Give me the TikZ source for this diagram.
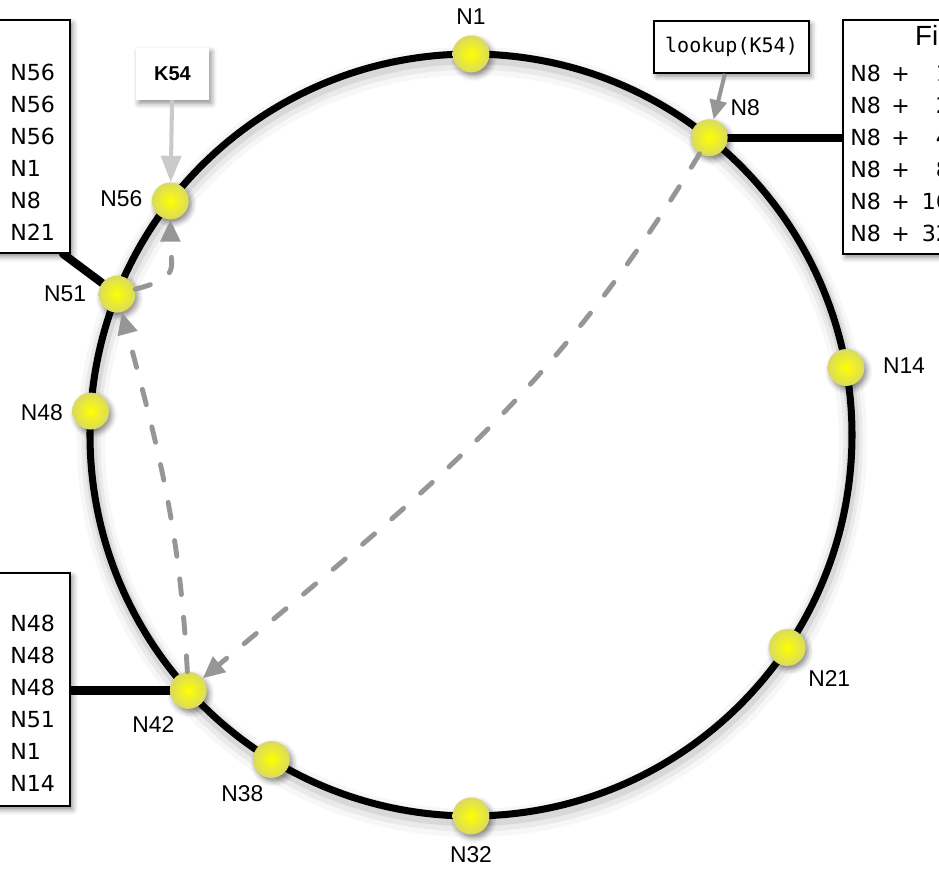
\documentclass[tikz,border=0pt]{standalone}
\usepackage{fontspec}
\setmainfont{Liberation Sans}
\newfontfamily\tablefont{DejaVu Sans}
\newfontfamily\codefont{DejaVu Sans Mono}
\usetikzlibrary{arrows.meta, positioning, shadows.blur, backgrounds}
\definecolor{peercore}{RGB}{255,255,0}
\definecolor{peerrim}{RGB}{218,218,96}
\definecolor{hopgray}{RGB}{150,150,150}
\definecolor{keygray}{RGB}{202,202,202}
\newcommand{\fingerrow}[1]{\makebox[20pt][l]{N8}\makebox[17.2pt]{+}\makebox[19.5pt][r]{#1}}
\tikzset{
    softshadow/.style={blur shadow={shadow xshift=1.5pt, shadow yshift=-2pt, shadow blur radius=3pt, shadow opacity=45}},
    peer/.style={circle, minimum size=21pt, inner sep=0pt, inner color=peercore, outer color=peerrim, softshadow},
    peerlabel/.style={inner sep=0pt, font=\fontsize{13}{15}\selectfont},
    fingerbox/.style={rectangle, draw=black, line width=1pt, fill=white, softshadow},
    fingerrows/.style={inner sep=0pt, align=left, font=\tablefont\fontsize{12.6}{18.2}\selectfont},
    fingertitle/.style={inner sep=0pt, font=\fontsize{15.8}{18}\selectfont},
    keybox/.style={rectangle, fill=white, minimum width=41.4pt, minimum height=29.5pt, font=\bfseries\fontsize{11.4}{13}\selectfont, softshadow},
    callbox/.style={rectangle, draw=black, line width=1pt, fill=white, minimum width=87.9pt, minimum height=29.5pt, font=\codefont\fontsize{11.4}{13}\selectfont, softshadow},
    ring/.style={line width=4pt},
    link/.style={line width=4.7pt, line cap=round},
    hop/.style={hopgray, line width=2.8pt, line cap=round, dash pattern=on 9pt off 13pt, -{Triangle[length=12.5pt, width=11pt]}},
    keyarrow/.style={keygray, line width=2.3pt, -{Triangle[length=15pt, width=11.3pt]}},
    callarrow/.style={hopgray, line width=2.3pt, -{Triangle[length=11pt, width=9.6pt]}}
}

\begin{document}
\begin{tikzpicture}[x=0.02cm, y=0.02cm]
\path[use as bounding box] (-471,-434) rectangle (468,435);
\clip (-471,-434) rectangle (468,435);

% Ring and its shadow
\draw[line width=16pt, black, opacity=0.03] (1,-7) circle (381);
\draw[line width=11pt, black, opacity=0.05] (1,-6) circle (381);
\draw[line width=7pt, black, opacity=0.08] (1,-4) circle (381);
\draw[ring] (0,0) circle (381);

% Peers on the ring
\node[peer] (n1) at (90:381) {};
\node[peer] (n8) at (51.3:381) {};
\node[peer] (n14) at (10.2:381) {};
\node[peer] (n21) at (-33.9:381) {};
\node[peer] (n32) at (-90:381) {};
\node[peer] (n38) at (238.4:381) {};
\node[peer] (n42) at (222.1:381) {};
\node[peer] (n48) at (176.4:381) {};
\node[peer] (n51) at (158.3:381) {};
\node[peer] (n56) at (142.1:381) {};

% Peer names
\node[peerlabel] (n1label) at ([shift={(0,37)}]n1) {N1};
\node[peerlabel] (n8label) at ([shift={(36,30)}]n8) {N8};
\node[peerlabel] (n14label) at ([shift={(58,2)}]n14) {N14};
\node[peerlabel] (n21label) at ([shift={(42,-31)}]n21) {N21};
\node[peerlabel] (n32label) at ([shift={(0,-39)}]n32) {N32};
\node[peerlabel] (n38label) at ([shift={(-29,-34)}]n38) {N38};
\node[peerlabel] (n42label) at ([shift={(-35,-34)}]n42) {N42};
\node[peerlabel] (n48label) at ([shift={(-49,-2)}]n48) {N48};
\node[peerlabel] (n51label) at ([shift={(-52,0)}]n51) {N51};
\node[peerlabel] (n56label) at ([shift={(-49,2)}]n56) {N56};

% Finger tables
\node[fingerbox, minimum width=68pt, minimum height=132.7pt, anchor=north east] (ft51) at (-400,416) {};
\node[fingerrows, anchor=north west] (ft51rows) at ([shift={(-61,-44.5)}]ft51.north east) {N56\\N56\\N56\\N1\\N8\\N21};

\node[fingerbox, minimum width=68pt, minimum height=132.7pt, anchor=north east] (ft42) at (-400,-137) {};
\node[fingerrows, anchor=north west] (ft42rows) at ([shift={(-61,-42.6)}]ft42.north east) {N48\\N48\\N48\\N51\\N1\\N14};

\node[fingerbox, minimum width=163.3pt, minimum height=133.2pt, anchor=north west] (ft8) at (371,416) {};
\node[fingertitle] (ft8title) at ([shift={(2,-19)}]ft8.north) {Finger table};
\node[fingerrows, anchor=north west] (ft8rows) at ([shift={(8,-45.5)}]ft8.north west) {\fingerrow{1}\\\fingerrow{2}\\\fingerrow{4}\\\fingerrow{8}\\\fingerrow{16}\\\fingerrow{32}};

% Key and query
\node[keybox] (k54) at (-298.5,361) {K54};
\node[callbox] (lookup) at (260.5,388) {lookup(K54)};

% Peers to their tables
\begin{scope}[on background layer]
\draw[link] (n8) -- (n8 -| ft8.west);
\draw[link] (n42) -- (n42 -| ft42.east);
\draw[link] (n51) -- ([xshift=-4.5pt]ft51.south east);
\end{scope}

% Lookup hops
\draw[hop] (n8) to[out=239, in=40] (n42);
\draw[hop] (n42) to[out=93, in=-75] (n51);
\draw[hop] (n51) to[out=15, in=-90, looseness=1.6] (n56);

\draw[keyarrow] (k54) -- (n56);
\draw[callarrow] (lookup) -- (n8);

\end{tikzpicture}
\end{document}
